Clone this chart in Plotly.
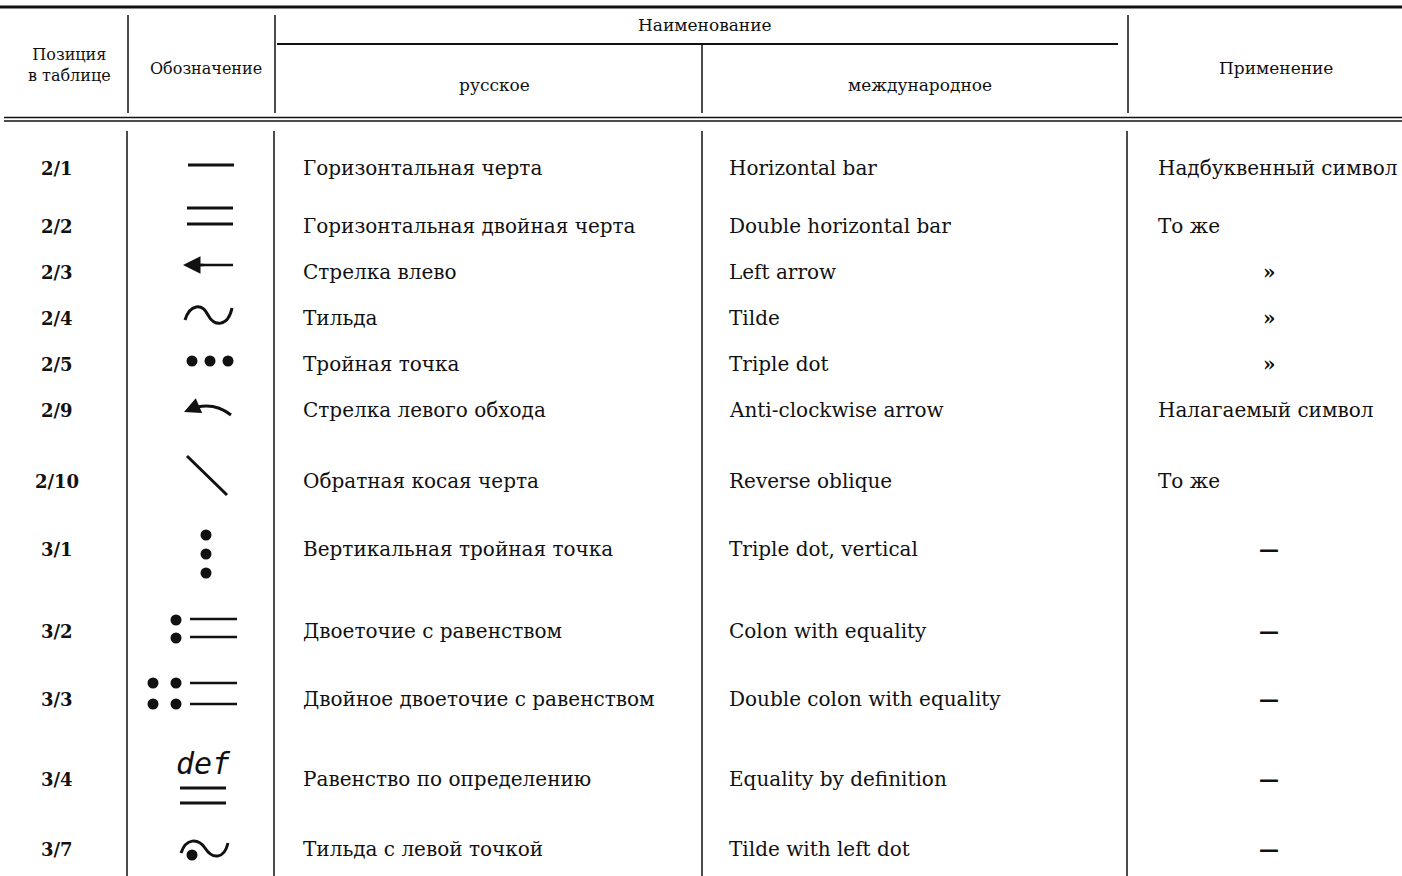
import plotly.graph_objects as go

# ---------------- data ----------------
positions = ["2/1", "2/2", "2/3", "2/4", "2/5", "2/9", "2/10",
             "3/1", "3/2", "3/3", "3/4", "3/7"]
names_ru = ["Горизонтальная черта", "Горизонтальная двойная черта",
            "Стрелка влево", "Тильда", "Тройная точка",
            "Стрелка левого обхода", "Обратная косая черта",
            "Вертикальная тройная точка", "Двоеточие с равенством",
            "Двойное двоеточие с равенством", "Равенство по определению",
            "Тильда с левой точкой"]
names_int = ["Horizontal bar", "Double horizontal bar", "Left arrow",
             "Tilde", "Triple dot", "Anti-clockwise arrow",
             "Reverse oblique", "Triple dot, vertical",
             "Colon with equality", "Double colon with equality",
             "Equality by definition", "Tilde with left dot"]
usage = ["Надбуквенный символ", "То же", "»", "»", "»",
         "Налагаемый символ", "То же", "—", "—", "—", "—", "—"]
header_group = "Наименование"
header_pos = "Позиция<br>в таблице"
header_sym = "Обозначение"
header_ru = "русское"
header_int = "международное"
header_use = "Применение"

# ---------------- layout (pixel space) ----------------
W, H = 1402, 876
row_y = [168, 226, 272, 318, 364, 410, 481, 549, 631, 699, 779, 849]
SERIF = "DejaVu Serif"
BLACK = "#111111"
BODY = 20
HEAD = 17

fig = go.Figure()
shapes = []
annotations = []


def hline(x0, x1, y, w=1.5):
    shapes.append(dict(type="line", xref="x", yref="y", x0=x0, x1=x1, y0=y, y1=y,
                       line=dict(color=BLACK, width=w)))


def vline(x, y0, y1, w=1.5):
    shapes.append(dict(type="line", xref="x", yref="y", x0=x, x1=x, y0=y0, y1=y1,
                       line=dict(color=BLACK, width=w)))


def seg(x0, y0, x1, y1, w=3):
    shapes.append(dict(type="line", xref="x", yref="y", x0=x0, x1=x1, y0=y0, y1=y1,
                       line=dict(color=BLACK, width=w)))


def path(d, w=3):
    shapes.append(dict(type="path", xref="x", yref="y", path=d,
                       line=dict(color=BLACK, width=w)))


def text(x, y, s, size=BODY, anchor="left", family=SERIF, weight="normal", style="normal"):
    annotations.append(dict(x=x, y=y, xref="x", yref="y", text=s, showarrow=False,
                            xanchor=anchor, yanchor="middle", align="center",
                            font=dict(family=family, size=size, color=BLACK,
                                      weight=weight, style=style)))


# table grid
hline(0, W, 7, 3)
hline(277, 1118, 44, 2)
hline(4, W, 117.5, 1.6)
hline(4, W, 121, 1.6)
for x in (128, 275, 1128):
    vline(x, 15, 113)
vline(702, 45, 113)
for x in (127, 274, 702, 1127):
    vline(x, 131, H)

# header texts
text(69, 65, header_pos, 16, "center")
text(206, 68, header_sym, 16, "center")
text(705, 25, header_group, HEAD, "center")
text(494, 85, header_ru, HEAD, "center")
text(920, 85, header_int, HEAD, "center")
text(1276, 68, header_use, HEAD, "center")

# body texts
for i, y in enumerate(row_y):
    text(57, y, positions[i], 18, "center", weight="bold")
    text(301, y, names_ru[i], BODY, "left")
    text(727, y, names_int[i], BODY, "left")
    if usage[i] in ("»", "—"):
        text(1269, y, usage[i], BODY, "center", weight="bold")
    else:
        text(1156, y, usage[i], BODY, "left")

# ---------------- symbol glyphs (column "Обозначение") ----------------
dot_x, dot_y = [], []
# 2/1 horizontal bar
seg(188, 165, 234, 165)
# 2/2 double horizontal bar
seg(187, 208, 233, 208)
seg(187, 224, 233, 224)
# 2/3 left arrow
seg(190, 265, 233, 265, 2.5)
annotations.append(dict(x=183, y=265, ax=205, ay=265, xref="x", yref="y",
                        axref="x", ayref="y", text="", showarrow=True,
                        arrowhead=2, arrowsize=1.4, arrowwidth=2.5, arrowcolor=BLACK))
# 2/4 tilde
path("M185,320 C190,304 202,303 208,315 C214,327 228,327 232,308", 3)
# 2/5 triple dot
dot_x += [192, 210, 228]
dot_y += [361, 361, 361]
# 2/9 anti-clockwise arrow
path("M231,415 Q212,400 188,410", 3)
annotations.append(dict(x=184, y=412, ax=198, ay=406, xref="x", yref="y",
                        axref="x", ayref="y", text="", showarrow=True,
                        arrowhead=2, arrowsize=1.3, arrowwidth=2.5, arrowcolor=BLACK))
# 2/10 reverse oblique
seg(187, 456, 227, 495, 3)
# 3/1 vertical triple dot
dot_x += [206, 206, 206]
dot_y += [535, 554, 573]
# 3/2 colon with equality
dot_x += [176, 176]
dot_y += [620, 638]
seg(190, 619, 237, 619, 2.5)
seg(190, 637, 237, 637, 2.5)
# 3/3 double colon with equality
dot_x += [153, 176, 153, 176]
dot_y += [683, 683, 704, 704]
seg(190, 683, 237, 683, 2.5)
seg(190, 704, 237, 704, 2.5)
# 3/4 equality by definition
text(203, 763, "def", 30, "center", family="DejaVu Sans Mono", style="italic")
seg(180, 788, 226, 788, 3)
seg(180, 803, 226, 803, 3)
# 3/7 tilde with left dot
path("M181,853 C186,838 198,838 205,848 C212,859 224,860 228,843", 3)
dot_x += [192]
dot_y += [855]

fig.add_trace(go.Scatter(x=dot_x, y=dot_y, mode="markers", hoverinfo="skip",
                         marker=dict(size=11, color=BLACK), showlegend=False))

fig.update_layout(
    width=W, height=H, margin=dict(l=0, r=0, t=0, b=0),
    paper_bgcolor="white", plot_bgcolor="white",
    xaxis=dict(range=[0, W], visible=False, fixedrange=True),
    yaxis=dict(range=[H, 0], visible=False, fixedrange=True),
    shapes=shapes, annotations=annotations, showlegend=False,
)
fig.write_html("out.html", config={"displayModeBar": False},
               post_script="document.body.style.margin='0';"
                           "document.body.style.overflow='hidden';")
